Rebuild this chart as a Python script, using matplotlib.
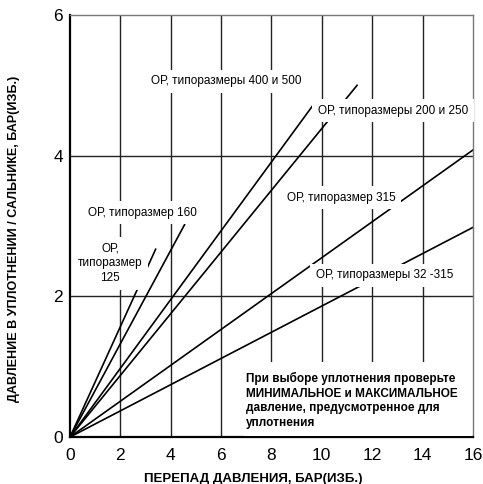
import matplotlib.pyplot as plt
from matplotlib.patches import Rectangle

# pressure lines, each runs from the origin to its end point
line_names = ['125', '160', '400/500', '200/250', '315', '32-315']
x_end = [3.4, 4.55, 9.8, 11.4, 16.0, 16.0]
y_end = [2.67, 3.02, 4.79, 5.0, 4.08, 2.98]

labels = ['ОР,\nтипоразмер\n125',
          'ОР, типоразмер 160',
          'ОР, типоразмеры 400 и 500',
          'ОР, типоразмеры 200 и 250',
          'ОР, типоразмер 315',
          'ОР, типоразмеры 32 -315']
label_x = [1.6, 0.72, 3.2, 9.85, 8.62, 9.75]
label_y = [2.47, 3.19, 5.06, 4.64, 3.4, 2.3]
label_ha = ['center', 'left', 'left', 'left', 'left', 'left']

x_ticks = [0, 2, 4, 6, 8, 10, 12, 14, 16]
y_ticks = [0, 2, 4, 6]

note = ('При выборе уплотнения проверьте\n'
        'МИНИМАЛЬНОЕ и МАКСИМАЛЬНОЕ\n'
        'давление, предусмотренное для\n'
        'уплотнения')

plt.rcParams['font.family'] = ['Liberation Sans', 'DejaVu Sans']

fig = plt.figure(figsize=(4.83, 4.84), dpi=100)
ax = fig.add_axes([0.145, 0.097, 0.834, 0.872])

ax.set_xlim(0, 16)
ax.set_ylim(0, 6)
ax.set_xticks(x_ticks)
ax.set_yticks(y_ticks)
ax.tick_params(length=0, labelsize=12.5)
ax.tick_params(axis='x', pad=8)
ax.tick_params(axis='y', pad=5)

# grid
for gx in x_ticks[1:-1]:
    ax.axvline(gx, color='#222222', lw=1.0, zorder=1)
for gy in y_ticks[1:-1]:
    ax.axhline(gy, color='#222222', lw=1.0, zorder=1)

for s in ['left', 'bottom']:
    ax.spines[s].set_linewidth(1.6)
for s in ['top', 'right']:
    ax.spines[s].set_linewidth(1.0)
    ax.spines[s].set_color('#777777')

for xe, ye in zip(x_end, y_end):
    ax.plot([0, xe], [0, ye], color='black', lw=1.2, zorder=2)

for txt, lx, ly, ha in zip(labels, label_x, label_y, label_ha):
    ax.text(lx, ly, txt, ha=ha, va='center', fontsize=8.5, linespacing=1.3,
            zorder=4, bbox=dict(facecolor='white', edgecolor='none', pad=4))

# white box behind the note
ax.add_patch(Rectangle((6.9, 0.02), 9.05, 1.04, facecolor='white',
                       edgecolor='none', zorder=3))
ax.text(7.0, 0.52, note, ha='left', va='center', fontsize=8.5,
        fontweight='bold', linespacing=1.3, zorder=4)

ax.set_xlabel('ПЕРЕПАД ДАВЛЕНИЯ, БАР(ИЗБ.)', fontsize=9.5,
              fontweight='bold')
ax.xaxis.set_label_coords(0.455, -0.085)
ax.set_ylabel('ДАВЛЕНИЕ В УПЛОТНЕНИИ / САЛЬНИКЕ, БАР(ИЗБ.)', fontsize=9,
              fontweight='bold')
ax.yaxis.set_label_coords(-0.125, 0.47)

fig.savefig('out.png', dpi=100)
